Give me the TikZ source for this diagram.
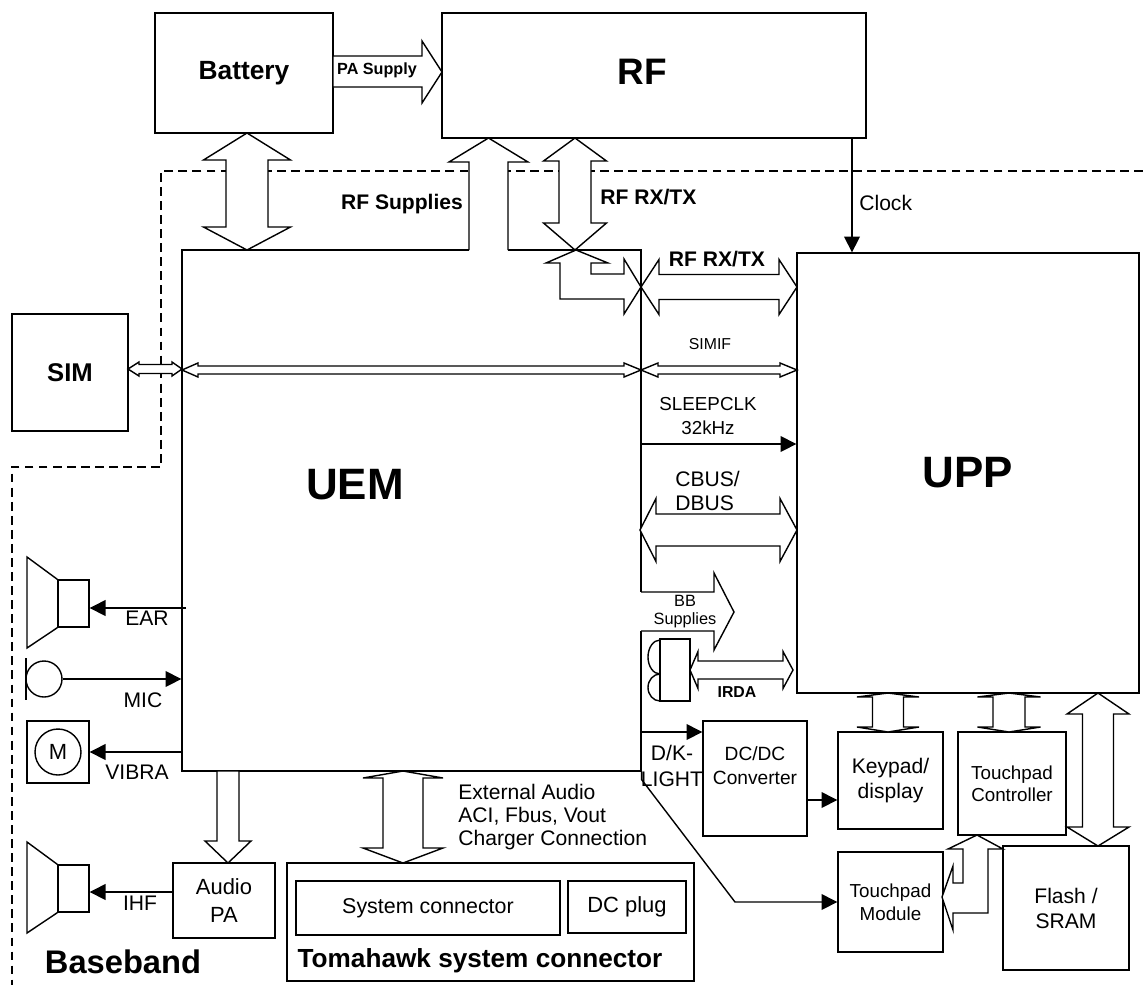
\documentclass[tikz,border=0pt]{standalone}
\usepackage{fontspec}
\setmainfont{Liberation Sans}
\usetikzlibrary{arrows.meta}

\tikzset{
  box/.style={draw, line width=0.8pt, inner sep=0pt, align=center},
  blk/.style={draw, fill=white, line width=0.8pt},
  edge/.style={line width=0.8pt},
  sig/.style={line width=0.8pt, -{Triangle[length=9pt,width=9pt]}},
  big/.style={inner sep=0pt, font={\fontsize{25}{28}\selectfont\bfseries}},
  lbl/.style={inner sep=0pt, align=center, font={\fontsize{12}{14}\selectfont}},
  blbl/.style={inner sep=0pt, align=center, font={\fontsize{12}{14}\selectfont\bfseries}},
}

% vertical double block arrow: x, y top, y bottom, shaft half, head half, head top, head bottom
\newcommand\vdbl[7]{%
  \draw[blk] (#1,#2) -- ({#1+#5},{#2+#6}) -- ({#1+#4},{#2+#6}) -- ({#1+#4},{#3-#7})
    -- ({#1+#5},{#3-#7}) -- (#1,#3) -- ({#1-#5},{#3-#7}) -- ({#1-#4},{#3-#7})
    -- ({#1-#4},{#2+#6}) -- ({#1-#5},{#2+#6}) -- cycle;}
% horizontal double block arrow: y, x left, x right, shaft half, head half, head left, head right
\newcommand\hdbl[7]{%
  \draw[blk] (#2,#1) -- ({#2+#6},{#1-#5}) -- ({#2+#6},{#1-#4}) -- ({#3-#7},{#1-#4})
    -- ({#3-#7},{#1-#5}) -- (#3,#1) -- ({#3-#7},{#1+#5}) -- ({#3-#7},{#1+#4})
    -- ({#2+#6},{#1+#4}) -- ({#2+#6},{#1+#5}) -- cycle;}

\begin{document}
\begin{tikzpicture}[x=0.02cm, y=-0.02cm]
    \useasboundingbox (0,0) rectangle (1143,985);

    % baseband border
    \draw[line width=0.7pt, dash pattern=on 5pt off 3pt] (1143,171) -| (161,467) -| (12,985);

    % blocks
    \node (bat) [box, minimum width=3.56cm, minimum height=2.40cm, font={\fontsize{15}{18}\selectfont\bfseries}] at (244,73) {Battery};
    \node (rf) [box, minimum width=8.48cm, minimum height=2.50cm] at (654,75.5) {};
    \node (lrf) [inner sep=0pt, font={\fontsize{21}{24}\selectfont\bfseries}] at (642,72) {RF};
    \node (uem) [box, minimum width=9.18cm, minimum height=10.42cm] at (411.5,510.5) {};
    \node (luem) [big] at (355,485) {UEM};
    \node (upp) [box, minimum width=6.84cm, minimum height=8.80cm, font={\fontsize{25}{28}\selectfont\bfseries}] at (968,473) {UPP};
    \node (sim) [box, minimum width=2.32cm, minimum height=2.34cm, font={\fontsize{14.6}{17}\selectfont\bfseries}] at (70,372.5) {SIM};
    \node (dcdc) [box, minimum width=2.08cm, minimum height=2.30cm] at (755,778.5) {};
    \node (ldcdc) [lbl, font={\fontsize{10.9}{13.6}\selectfont}] at (755,766) {DC/DC\\Converter};
    \node (kpd) [box, minimum width=2.10cm, minimum height=1.94cm, font={\fontsize{12}{14.2}\selectfont}] at (890.5,780.5) {Keypad/\\display};
    \node (tpc) [box, minimum width=2.16cm, minimum height=2.06cm, font={\fontsize{10.7}{12.5}\selectfont}] at (1012,783.5) {Touchpad\\Controller};
    \node (flash) [box, minimum width=2.52cm, minimum height=2.48cm, font={\fontsize{12}{14.2}\selectfont}] at (1066,908) {Flash /\\SRAM};
    \node (tpm) [box, minimum width=2.10cm, minimum height=2.00cm, font={\fontsize{10.7}{13}\selectfont}] at (890.5,902) {Touchpad\\Module};
    \node (apa) [box, minimum width=2.04cm, minimum height=1.50cm, font={\fontsize{12.5}{15.9}\selectfont}] at (224,900.5) {Audio\\PA};
    \node (tom) [box, minimum width=8.14cm, minimum height=2.36cm] at (490.5,922) {};
    \node (sysc) [box, minimum width=5.28cm, minimum height=1.08cm, font={\fontsize{12.2}{14}\selectfont}] at (428,908) {System connector};
    \node (dcplug) [box, minimum width=2.36cm, minimum height=1.04cm, font={\fontsize{12.5}{14}\selectfont}] at (627,907) {DC plug};
    \node (ltom) [inner sep=0pt, font={\fontsize{14.9}{17}\selectfont\bfseries}] at (480,961) {Tomahawk system connector};

    % audio parts
    \node (earspk) [box, minimum width=0.62cm, minimum height=0.94cm] at (73.5,603.5) {};
    \draw[edge] (earspk.north west) -- (27,557) -- (27,648) -- (earspk.south west);
    \node (ihfspk) [box, minimum width=0.62cm, minimum height=0.94cm] at (73.5,888.5) {};
    \draw[edge] (ihfspk.north west) -- (27,842) -- (27,933) -- (ihfspk.south west);
    \node (mic) [box, circle, minimum size=0.72cm] at (44,679) {};
    \draw[edge] (26,658) -- (26,700);
    \node (vib) [box, minimum width=1.24cm, minimum height=1.24cm] at (58,752) {};
    \node (motor) [box, circle, minimum size=0.92cm, font={\fontsize{12.5}{14}\selectfont}] at (58,752) {M};

    % IR transceiver
    \node (ir) [box, minimum width=0.60cm, minimum height=1.24cm] at (675,670) {};
    \draw[edge] (660,640) arc[start angle=270, end angle=90, x radius=12, y radius=17];
    \draw[edge] (660,674) arc[start angle=270, end angle=90, x radius=12, y radius=13.5];

    % block arrows
    \vdbl{247}{133}{250}{21}{43.5}{27}{23}
    \vdbl{575}{138}{250}{16}{31.5}{23}{27}
    \vdbl{888}{693}{732}{15.5}{31}{4}{5}
    \vdbl{1009}{693}{732}{16}{31.5}{4}{5}
    \vdbl{1098}{693}{846}{15.5}{31}{21}{19}
    \vdbl{403}{771}{863}{20}{40}{7}{15}
    \hdbl{287}{641}{797}{12.5}{27.5}{18}{18}
    \hdbl{370}{641}{797}{4}{7}{17}{17}
    \hdbl{369}{128}{182}{4.5}{7}{11}{10}
    \hdbl{370}{182}{641}{4}{7}{16}{17}
    \hdbl{530}{640}{797}{16}{31.5}{16}{17}
    \hdbl{670}{690}{793}{9}{18.5}{8}{10}

    % PA supply
    \draw[blk] (333,56) -- (422,56) -- (422,41) -- (442,72) -- (422,103) -- (422,87) -- (333,87) -- cycle;
    % RF supplies
    \fill[white] (469,252) -- (469,162) -- (508,162) -- (508,252) -- cycle;
    \draw[blk] (469,250) -- (469,162) -- (449,162) -- (488.5,138) -- (528,162) -- (508,162) -- (508,250);
    % BB supplies
    \fill[white] (639,592) -- (714,592) -- (714,631) -- (639,631) -- cycle;
    \draw[blk] (641,592) -- (714,592) -- (714,573) -- (734,612) -- (714,650) -- (714,631) -- (641,631);
    % to audio PA
    \draw[blk] (217,771) -- (217,841) -- (205,841) -- (228,863) -- (251,841) -- (239,841) -- (239,771) -- cycle;
    % RF RX/TX bend
    \draw[blk] (576,250) -- (608,263) -- (591,263) -- (591,274) -- (624,274) -- (624,259) -- (641,287)
        -- (624,314) -- (624,299) -- (560,299) -- (560,263) -- (546,263) -- cycle;
    % touchpad bend
    \draw[blk] (977,835) -- (1003,849) -- (988,849) -- (988,913) -- (953,913) -- (953,930) -- (942,897)
        -- (953,866) -- (953,883) -- (963,883) -- (963,849) -- (948,849) -- cycle;

    % signals
    \coordinate (clk) at (852,0);
    \coordinate (slp) at (0,444);
    \coordinate (earc) at (186,608);
    \coordinate (ihfc) at (0,892);
    \coordinate (dkc) at (0,732);
    \coordinate (dcc) at (0,800);
    \draw[sig] (rf.south -| clk) -- (upp.north -| clk);
    \draw[sig] (uem.east |- slp) -- (upp.west |- slp);
    \draw[sig] (earc) -- (earspk.east |- earc);
    \draw[sig] (mic.east) -- (uem.west |- mic.east);
    \draw[sig] (uem.west |- vib.east) -- (vib.east);
    \draw[sig] (apa.west |- ihfc) -- (ihfspk.east |- ihfc);
    \draw[sig] (uem.east |- dkc) -- (dcdc.west |- dkc);
    \draw[sig] (dcdc.east |- dcc) -- (kpd.west |- dcc);
    \draw[sig] (uem.south east) -- ++(0,8) -- (735,902) -- (tpm.west);

    % labels
    \node (lpa) [blbl, font={\fontsize{9.2}{11}\selectfont\bfseries}] at (377,70) {PA Supply};
    \node (lrfs) [blbl] at (402,204) {RF Supplies};
    \node (lrfv) [blbl, anchor=west] at (600,197) {RF RX/TX};
    \node (lrfh) [blbl] at (717,259) {RF RX/TX};
    \node (lclk) [lbl, anchor=west] at (859,203) {Clock};
    \node (lsimif) [lbl, font={\fontsize{9}{11}\selectfont}] at (710,344) {SIMIF};
    \node (lslp) [lbl, font={\fontsize{10.7}{14.2}\selectfont}] at (708,416) {SLEEPCLK\\32kHz};
    \node (lcbus) [lbl, anchor=west, align=left, font={\fontsize{12}{13.6}\selectfont}] at (675,491) {CBUS/\\DBUS};
    \node (lbb) [lbl, font={\fontsize{9.3}{10.2}\selectfont}] at (685,612) {BB\\Supplies};
    \node (lirda) [blbl, font={\fontsize{9}{11}\selectfont\bfseries}] at (737,692) {IRDA};
    \node (ldk) [lbl, font={\fontsize{12}{14.7}\selectfont}] at (672,766) {D/K-\\LIGHT};
    \node (lear) [lbl] at (147,618) {EAR};
    \node (lmic) [lbl] at (143,700) {MIC};
    \node (lvib) [lbl] at (137,772) {VIBRA};
    \node (lihf) [lbl] at (140,903) {IHF};
    \node (lext) [lbl, anchor=west, align=left, font={\fontsize{12}{13.3}\selectfont}] at (458,817) {External Audio\\ACI, Fbus, Vout\\Charger Connection};
    \node (lbase) [inner sep=0pt, font={\fontsize{18.6}{21}\selectfont\bfseries}] at (123,962) {Baseband};
\end{tikzpicture}
\end{document}
